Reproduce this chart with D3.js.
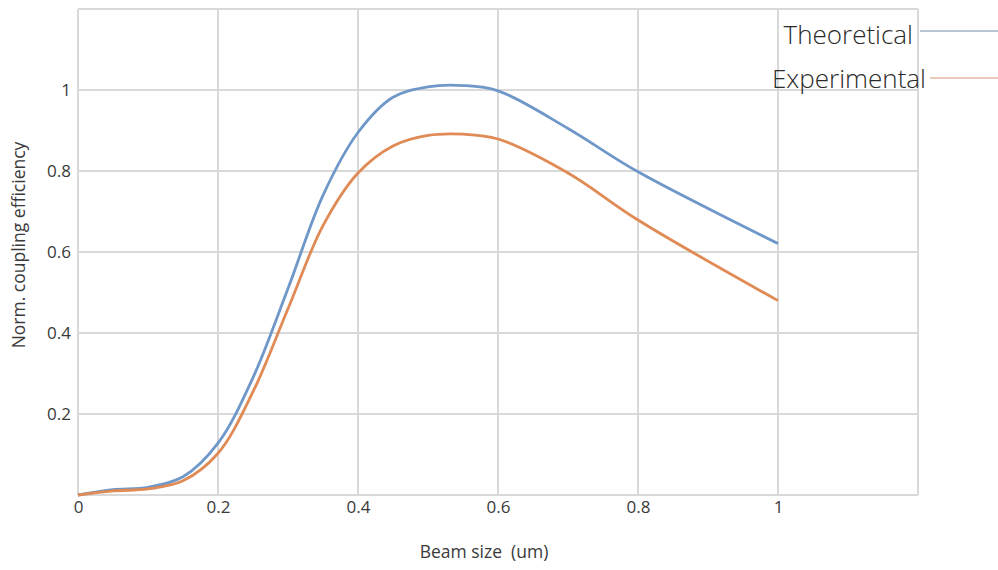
<!DOCTYPE html>
<html>
<head>
<meta charset="utf-8">
<script src="https://cdn.jsdelivr.net/npm/d3@7"></script>
<style>
  html, body { margin: 0; padding: 0; background: #fff; }
  svg { display: block; font-family: "Open Sans", "Noto Sans", sans-serif; }
</style>
</head>
<body>
<svg id="chart" width="998" height="570"></svg>
<script>
// Beam size (um) sample positions
const beamSize = [0, 0.05, 0.1, 0.15, 0.2, 0.25, 0.3, 0.35, 0.4, 0.45, 0.5, 0.55, 0.6, 0.7, 0.8, 1.0];
// Normalised coupling efficiency
const theoretical = [0, 0.013, 0.019, 0.045, 0.128, 0.29, 0.51, 0.74, 0.895, 0.982, 1.008, 1.011, 0.998, 0.905, 0.798, 0.621];
const experimental = [0, 0.01, 0.015, 0.035, 0.103, 0.255, 0.46, 0.665, 0.795, 0.862, 0.888, 0.891, 0.879, 0.795, 0.679, 0.48];
const xTicks = [0, 0.2, 0.4, 0.6, 0.8, 1];
const yTicks = [0.2, 0.4, 0.6, 0.8, 1];
const seriesNames = ["Theoretical", "Experimental"];

const svg = d3.select("#chart");
const x = d3.scaleLinear().domain([0, 1.2]).range([78, 918]);
const y = d3.scaleLinear().domain([0, 1.2]).range([495, 9]);

const gridColor = "#d9d9d9";
const textColor = "#3a3a3a";

// grid
const grid = svg.append("g");
grid.selectAll("line.v").data(d3.range(0, 1.21, 0.2)).join("line")
  .attr("x1", d => x(d)).attr("x2", d => x(d))
  .attr("y1", y(0)).attr("y2", y(1.2))
  .attr("stroke", gridColor).attr("stroke-width", 2);
grid.selectAll("line.h").data(d3.range(0, 1.21, 0.2)).join("line")
  .attr("x1", x(0)).attr("x2", x(1.2))
  .attr("y1", d => y(d)).attr("y2", d => y(d))
  .attr("stroke", gridColor).attr("stroke-width", 2);

// axes (labels only)
const fmt = d => d === 0 ? "0" : d === 1 ? "1" : d3.format(".1f")(d);
const xAxis = svg.append("g").attr("transform", `translate(0,${y(0)})`)
  .call(d3.axisBottom(x).tickValues(xTicks).tickFormat(fmt).tickSize(0).tickPadding(6));
const yAxis = svg.append("g").attr("transform", `translate(${x(0)},0)`)
  .call(d3.axisLeft(y).tickValues(yTicks).tickFormat(fmt).tickSize(0).tickPadding(7));
[xAxis, yAxis].forEach(g => {
  g.select(".domain").remove();
  g.selectAll("text").attr("fill", textColor).style("font-size", "17px")
    .style("font-family", "'Open Sans', sans-serif");
});

// axis titles
svg.append("text")
  .attr("x", 484).attr("y", 558)
  .attr("text-anchor", "middle")
  .attr("fill", textColor).style("font-size", "17.5px")
  .style("white-space", "pre")
  .text("Beam size  (um)");
svg.append("text")
  .attr("transform", "translate(25,245) rotate(-90)")
  .attr("text-anchor", "middle")
  .attr("fill", textColor).style("font-size", "17.5px")
  .text("Norm. coupling efficiency");

// series
const line = d3.line().x(d => x(d[0])).y(d => y(d[1])).curve(d3.curveCatmullRom.alpha(0.5));
const series = [
  { name: seriesNames[0], values: theoretical, color: "#6f98c9", legendColor: "#9fb2c8", ly: 31, ty: 44, tx: 913, lx: 920 },
  { name: seriesNames[1], values: experimental, color: "#e08a55", legendColor: "#e3b8a4", ly: 78, ty: 88, tx: 926, lx: 930 }
];
series.forEach(s => {
  svg.append("path")
    .datum(beamSize.map((b, i) => [b, s.values[i]]))
    .attr("d", line)
    .attr("fill", "none")
    .attr("stroke", s.color)
    .attr("stroke-width", 2.8)
    .attr("stroke-linejoin", "round");
});

// legend
series.forEach(s => {
  svg.append("text")
    .attr("x", s.tx).attr("y", s.ty)
    .attr("text-anchor", "end")
    .attr("fill", "#2a2a2a")
    .style("font-size", "26px")
    .style("font-weight", 300)
    .text(s.name);
  svg.append("line")
    .attr("x1", s.lx).attr("x2", 998)
    .attr("y1", s.ly).attr("y2", s.ly)
    .attr("stroke", s.legendColor).attr("stroke-width", 1.3);
});
</script>
</body>
</html>
